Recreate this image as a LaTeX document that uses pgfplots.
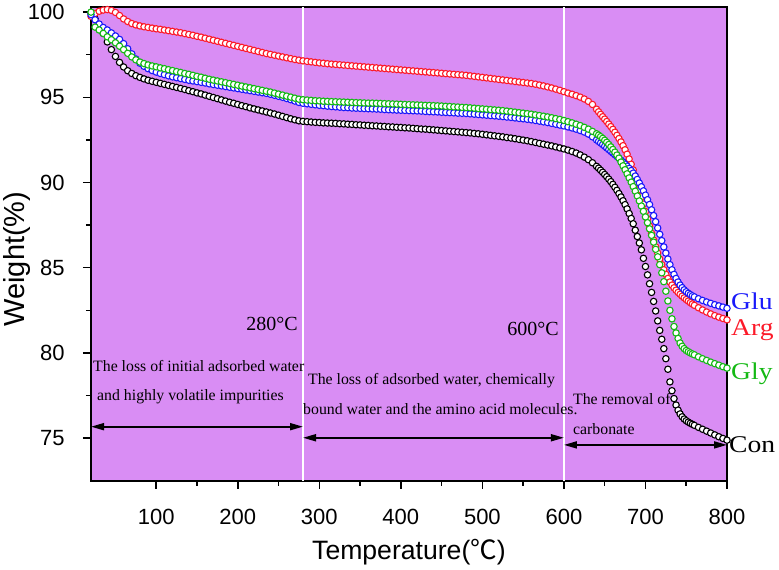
\documentclass[border=0pt]{standalone}
\usepackage{fontspec}
\setmainfont{Liberation Serif}
\setsansfont{Liberation Sans}
\newfontfamily\cjk{Noto Sans CJK SC}
\usepackage{graphicx}
\usepackage{pgfplots}
\pgfplotsset{compat=1.18}
\usepackage{pgfplotstable}
\usetikzlibrary{arrows.meta}
\definecolor{bgpurple}{RGB}{217,141,244}
\definecolor{cred}{RGB}{252,25,40}
\definecolor{cblue}{RGB}{25,25,250}
\definecolor{cgreen}{RGB}{20,185,20}
\newcommand\ann{\fontsize{15.8bp}{18bp}\selectfont}
\newcommand\lab{\fontsize{24bp}{24bp}\selectfont}
\pgfplotstableread{
T Arg Glu Gly Con
20 99.75 99.85 100.00 99.95
25 99.92 99.55 99.12 99.60
30 100.05 99.30 98.95 99.20
35 100.12 99.10 98.75 98.75
40 100.15 98.95 98.55 98.25
45 100.10 98.78 98.38 97.80
50 99.98 98.60 98.20 97.40
55 99.80 98.40 98.00 97.05
60 99.60 98.15 97.80 96.78
65 99.45 97.85 97.58 96.56
70 99.33 97.55 97.37 96.40
75 99.25 97.25 97.20 96.27
80 99.19 97.00 97.07 96.17
85 99.14 96.82 96.98 96.08
90 99.10 96.68 96.90 96.00
95 99.06 96.57 96.84 95.94
100 99.02 96.48 96.79 95.88
105 98.99 96.40 96.73 95.82
110 98.95 96.33 96.68 95.76
115 98.91 96.26 96.62 95.70
120 98.87 96.20 96.57 95.64
125 98.83 96.15 96.51 95.58
130 98.79 96.10 96.46 95.52
135 98.74 96.05 96.40 95.46
140 98.69 96.00 96.35 95.39
145 98.64 95.96 96.29 95.33
150 98.58 95.92 96.23 95.26
155 98.53 95.88 96.18 95.20
160 98.47 95.84 96.12 95.13
165 98.41 95.79 96.06 95.06
170 98.35 95.75 96.01 94.99
175 98.29 95.71 95.96 94.92
180 98.23 95.67 95.91 94.85
185 98.17 95.63 95.86 94.78
190 98.11 95.59 95.81 94.71
195 98.05 95.55 95.76 94.65
200 97.99 95.51 95.71 94.58
205 97.93 95.47 95.66 94.51
210 97.87 95.43 95.61 94.45
215 97.81 95.39 95.56 94.38
220 97.75 95.35 95.51 94.32
225 97.69 95.31 95.46 94.26
230 97.63 95.27 95.41 94.20
235 97.57 95.23 95.36 94.14
240 97.52 95.18 95.31 94.08
245 97.47 95.12 95.25 94.02
250 97.42 95.06 95.19 93.95
255 97.37 95.00 95.13 93.88
260 97.32 94.93 95.07 93.81
265 97.27 94.86 95.01 93.74
270 97.22 94.78 94.95 93.68
275 97.18 94.70 94.89 93.62
280 97.14 94.65 94.86 93.59
285 97.11 94.62 94.84 93.57
290 97.08 94.59 94.82 93.55
295 97.05 94.56 94.80 93.53
300 97.02 94.53 94.79 93.52
305 97.00 94.51 94.77 93.50
310 96.97 94.48 94.76 93.49
315 96.95 94.46 94.75 93.48
320 96.93 94.44 94.74 93.47
325 96.91 94.42 94.73 93.45
330 96.89 94.40 94.72 93.44
335 96.87 94.39 94.71 93.42
340 96.85 94.37 94.70 93.41
345 96.83 94.36 94.69 93.39
350 96.81 94.35 94.68 93.38
355 96.79 94.34 94.67 93.36
360 96.77 94.33 94.66 93.35
365 96.75 94.32 94.66 93.33
370 96.73 94.31 94.65 93.32
375 96.71 94.30 94.64 93.30
380 96.69 94.28 94.63 93.29
385 96.67 94.27 94.62 93.27
390 96.65 94.26 94.61 93.26
395 96.63 94.25 94.60 93.24
400 96.61 94.24 94.59 93.23
405 96.59 94.23 94.58 93.21
410 96.57 94.22 94.57 93.20
415 96.55 94.21 94.56 93.18
420 96.53 94.20 94.55 93.16
425 96.51 94.19 94.54 93.14
430 96.49 94.17 94.53 93.13
435 96.47 94.16 94.52 93.11
440 96.45 94.15 94.51 93.09
445 96.43 94.14 94.50 93.07
450 96.41 94.12 94.49 93.05
455 96.39 94.11 94.47 93.03
460 96.37 94.10 94.46 93.01
465 96.35 94.09 94.44 92.99
470 96.33 94.07 94.43 92.97
475 96.31 94.06 94.41 92.95
480 96.29 94.05 94.40 92.93
485 96.26 94.03 94.38 92.91
490 96.23 94.01 94.36 92.88
495 96.20 93.99 94.34 92.86
500 96.17 93.97 94.32 92.83
505 96.14 93.95 94.30 92.80
510 96.11 93.93 94.28 92.77
515 96.08 93.91 94.26 92.74
520 96.05 93.89 94.24 92.71
525 96.02 93.87 94.22 92.68
530 95.99 93.84 94.19 92.64
535 95.96 93.82 94.16 92.61
540 95.93 93.79 94.13 92.57
545 95.90 93.76 94.10 92.53
550 95.87 93.74 94.07 92.49
555 95.84 93.71 94.04 92.45
560 95.81 93.68 94.01 92.40
565 95.77 93.64 93.97 92.35
570 95.72 93.60 93.93 92.30
575 95.67 93.56 93.89 92.25
580 95.61 93.52 93.85 92.20
585 95.55 93.47 93.80 92.15
590 95.48 93.42 93.75 92.09
595 95.41 93.37 93.70 92.03
600 95.33 93.32 93.64 91.97
605 95.25 93.26 93.57 91.90
610 95.18 93.20 93.50 91.82
615 95.10 93.13 93.42 91.73
620 95.01 93.05 93.34 91.62
625 94.90 92.96 93.24 91.49
630 94.76 92.84 93.13 91.34
635 94.58 92.68 93.00 91.16
640 94.30 92.50 92.86 90.95
642.5 94.15 92.41 92.78 90.84
645 94.00 92.32 92.69 90.72
647.5 93.86 92.23 92.59 90.60
650 93.72 92.13 92.48 90.47
652.5 93.58 92.03 92.36 90.34
655 93.43 91.93 92.23 90.20
657.5 93.28 91.83 92.09 90.05
660 93.12 91.73 91.94 89.89
662.5 92.95 91.63 91.78 89.72
665 92.77 91.53 91.61 89.54
667.5 92.58 91.42 91.43 89.35
670 92.38 91.31 91.20 89.15
672.5 92.16 91.20 90.98 88.93
675 91.92 91.08 90.75 88.70
677.5 91.66 90.96 90.51 88.45
680 91.38 90.83 90.27 88.18
682.5 91.07 90.70 90.02 87.89
685 90.74 90.55 89.76 87.58
687.5 90.38 90.38 89.49 87.20
690 89.99 90.18 89.21 86.83
692.5 89.58 89.97 88.92 86.45
695 89.16 89.75 88.62 86.05
697.5 88.73 89.51 88.31 85.55
700 88.30 89.26 87.98 85.07
702.5 87.87 88.99 87.64 84.58
705 87.44 88.71 87.28 84.06
707.5 87.02 88.40 86.90 83.55
710 86.62 88.06 86.50 83.02
712.5 86.23 87.70 86.08 82.46
715 85.86 87.33 85.64 81.88
717.5 85.51 86.96 85.18 81.32
720 85.18 86.59 84.70 80.80
722.5 84.88 86.22 84.18 80.25
725 84.61 85.86 83.62 79.66
727.5 84.37 85.51 83.05 79.04
730 84.16 85.18 82.50 78.30
732.5 83.98 84.88 82.00 77.78
735 83.82 84.61 81.55 77.32
737.5 83.68 84.37 81.17 76.94
740 83.55 84.16 80.85 76.64
742.5 83.44 83.98 80.58 76.42
745 83.33 83.83 80.39 76.25
747.5 83.23 83.70 80.25 76.12
750 83.13 83.59 80.14 76.02
752.5 83.04 83.50 80.07 75.94
755 82.95 83.42 80.00 75.87
757.5 82.87 83.35 79.94 75.81
760 82.79 83.29 79.89 75.75
765 82.65 83.18 79.77 75.63
770 82.52 83.08 79.66 75.52
775 82.40 82.99 79.56 75.41
780 82.29 82.91 79.46 75.30
785 82.19 82.83 79.37 75.19
790 82.10 82.76 79.28 75.08
795 82.02 82.69 79.19 74.98
800 81.94 82.62 79.11 74.88
}\tga
\begin{document}
\begin{tikzpicture}
\useasboundingbox (0,0) rectangle (779bp,570bp);
\begin{axis}[
  at={(91bp,89.3bp)}, anchor=south west,
  scale only axis, width=636bp, height=473.7bp,
  xmin=20, xmax=800, ymin=72.5, ymax=100.3,
  clip=false,
  axis background/.style={fill=bgpurple},
  axis line style={line width=1.6bp, black},
  xtick={100,200,...,800}, ytick={75,80,...,100},
  minor x tick num=1, minor y tick num=1,
  tick pos=left, tick align=outside,
  major tick length=8bp, minor tick length=5bp,
  every tick/.style={line width=1.5bp, black},
  /pgf/number format/assume math mode=true,
  ticklabel style={font=\sffamily\fontsize{22bp}{22bp}\selectfont},
  xticklabel style={anchor=base, inner sep=0pt, yshift=-35.3bp},
  yticklabel style={anchor=east, inner sep=0pt, xshift=-18.3bp},
  xlabel={Temperature({\cjk ℃})},
  xlabel style={font=\sffamily\fontsize{26.6bp}{26.6bp}\selectfont, at={(axis description cs:0.5,-0.166)}, anchor=base, inner sep=0pt},
  ylabel={Weight(\%)},
  ylabel style={font=\sffamily\fontsize{29bp}{29bp}\selectfont, at={(axis description cs:-0.1053,0.468)}, anchor=base, inner sep=0pt},
]
\addplot[only marks, mark=*, mark size=3.2bp, mark options={fill=white, draw=black, line width=1.1bp}] table[x=T, y=Con] {\tga};
\addplot[only marks, mark=*, mark size=3.2bp, mark options={fill=white, draw=cred, line width=1.1bp}] table[x=T, y=Arg] {\tga};
\addplot[only marks, mark=*, mark size=3.2bp, mark options={fill=white, draw=cblue, line width=1.1bp}] table[x=T, y=Glu] {\tga};
\addplot[only marks, mark=*, mark size=3.2bp, mark options={fill=white, draw=cgreen, line width=1.1bp}] table[x=T, y=Gly] {\tga};
\addplot[white, line width=1.3bp, no marks] coordinates {(280,72.5) (280,100.3)};
\addplot[white, line width=1.3bp, no marks] coordinates {(600,72.5) (600,100.3)};
\draw[{Triangle[length=13bp,width=7bp]}-{Triangle[length=13bp,width=7bp]}, line width=1.8bp] (axis cs:20,75.67) -- (axis cs:280,75.67);
\draw[{Triangle[length=13bp,width=7bp]}-{Triangle[length=13bp,width=7bp]}, line width=1.8bp] (axis cs:280,75.02) -- (axis cs:600,75.02);
\draw[{Triangle[length=13bp,width=7bp]}-{Triangle[length=13bp,width=7bp]}, line width=1.8bp] (axis cs:600,74.60) -- (axis cs:800,74.60);
\node[anchor=base east, inner sep=0pt, font=\fontsize{20bp}{20bp}\selectfont] at (axis cs:273.9,81.29) {280°C};
\node[anchor=base east, inner sep=0pt, font=\fontsize{20bp}{20bp}\selectfont] at (axis cs:594,81.05) {600°C};
\node[anchor=base west, inner sep=0pt, font=\ann] at (axis cs:22.45,78.90) {The loss of initial adsorbed water};
\node[anchor=base west, inner sep=0pt, font=\ann] at (axis cs:27.4,77.19) {and highly volatile impurities};
\node[anchor=base west, inner sep=0pt, font=\ann] at (axis cs:286.1,78.17) {The loss of adsorbed water, chemically};
\node[anchor=base west, inner sep=0pt, font=\ann] at (axis cs:280,76.36) {bound water and the amino acid molecules.};
\node[anchor=base west, inner sep=0pt, font=\ann] at (axis cs:611.1,76.98) {The removal of};
\node[anchor=base west, inner sep=0pt, font=\ann] at (axis cs:611.1,75.22) {carbonate};
\node[anchor=base west, inner sep=0pt, font=\lab, text=cblue] at (axis cs:804.9,82.52) {\scalebox{1.15}[1]{Glu}};
\node[anchor=base west, inner sep=0pt, font=\lab, text=cred] at (axis cs:804.9,81.05) {\scalebox{1.15}[1]{Arg}};
\node[anchor=base west, inner sep=0pt, font=\lab, text=cgreen] at (axis cs:804.9,78.41) {\scalebox{1.15}[1]{Gly}};
\node[anchor=base west, inner sep=0pt, font=\lab, text=black] at (axis cs:802.5,74.18) {\scalebox{1.15}[1]{Con}};
\end{axis}
\end{tikzpicture}
\end{document}
